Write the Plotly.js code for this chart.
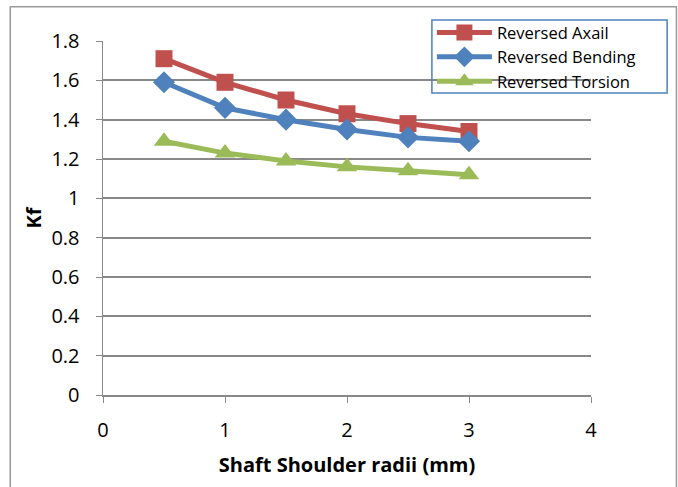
<!DOCTYPE html>
<html><head><meta charset="utf-8">
<script src="https://cdn.plot.ly/plotly-3.0.1.min.js"></script>
<style>html,body{margin:0;padding:0;background:#fff}#chart{width:678px;height:487px}</style>
</head><body><div id="chart"></div>
<script>
const radii = [0.5, 1, 1.5, 2, 2.5, 3];
const axial = [1.71, 1.59, 1.50, 1.43, 1.38, 1.34];
const bending = [1.59, 1.46, 1.40, 1.35, 1.31, 1.29];
const torsion = [1.29, 1.23, 1.19, 1.16, 1.14, 1.12];
const names = ["Reversed Axail", "Reversed Bending", "Reversed Torsion"];
const xTicks = [0, 1, 2, 3, 4];
const yTicks = [0, 0.2, 0.4, 0.6, 0.8, 1, 1.2, 1.4, 1.6, 1.8];
const yTickText = ["0", "0.2", "0.4", "0.6", "0.8", "1", "1.2", "1.4", "1.6", "1.8"];

const font = "Open Sans, Noto Sans, Liberation Sans, sans-serif";
const traces = [
  {x: radii, y: axial, name: names[0], mode: "lines+markers",
   line: {color: "#C0504D", width: 5}, marker: {symbol: "square", size: 17, color: "#C0504D"}},
  {x: radii, y: bending, name: names[1], mode: "lines+markers",
   line: {color: "#4F81BD", width: 5}, marker: {symbol: "diamond", size: 17, color: "#4F81BD"}},
  {x: radii, y: torsion, name: names[2], mode: "lines+markers",
   line: {color: "#9BBB59", width: 5}, marker: {symbol: "triangle-up", size: 18, color: "#9BBB59"}}
];
const layout = {
  width: 678, height: 487,
  margin: {l: 103, r: 87, t: 41, b: 92},
  paper_bgcolor: "#fff", plot_bgcolor: "#fff",
  font: {family: font, color: "#000", size: 19},
  showlegend: true,
  legend: {x: 0.674, y: 1.073, xanchor: "left", yanchor: "top",
    bgcolor: "rgba(0,0,0,0)", borderwidth: 0,
    font: {family: font, size: 16.5}, tracegroupgap: 0, itemwidth: 55},
  xaxis: {range: [0, 4], tickvals: xTicks, ticks: "outside", ticklen: 6, tickcolor: "#888",
    showline: true, linecolor: "#888", linewidth: 1.5, showgrid: false, zeroline: false,
    tickfont: {size: 20}, fixedrange: true, ticklabelstandoff: 10,
    title: {text: "<b>Shaft Shoulder radii (mm)</b>", font: {size: 20}, standoff: 16}},
  yaxis: {range: [0, 1.8], tickvals: yTicks, ticktext: yTickText, ticks: "outside", ticklen: 6, tickcolor: "#888",
    showline: true, linecolor: "#888", linewidth: 1.5, showgrid: true, gridcolor: "#888", gridwidth: 2,
    zeroline: false, tickfont: {size: 20}, fixedrange: true, ticklabelstandoff: 12,
    title: {text: "<b>Kf</b>", font: {size: 20}, standoff: 4}},
  shapes: [
    {type: "rect", xref: "paper", yref: "paper", x0: -0.19, x1: 1.175, y0: -0.3, y1: 1.097,
     line: {color: "#999", width: 1.5}, fillcolor: "rgba(0,0,0,0)"},
    {type: "rect", xref: "paper", yref: "paper", x0: 0.674, x1: 1.156, y0: 0.853, y1: 1.059,
     line: {color: "#4F81BD", width: 1.5}, fillcolor: "rgba(0,0,0,0)"}
  ]
};
Plotly.newPlot("chart", traces, layout, {displayModeBar: false, staticPlot: true});
</script></body></html>
